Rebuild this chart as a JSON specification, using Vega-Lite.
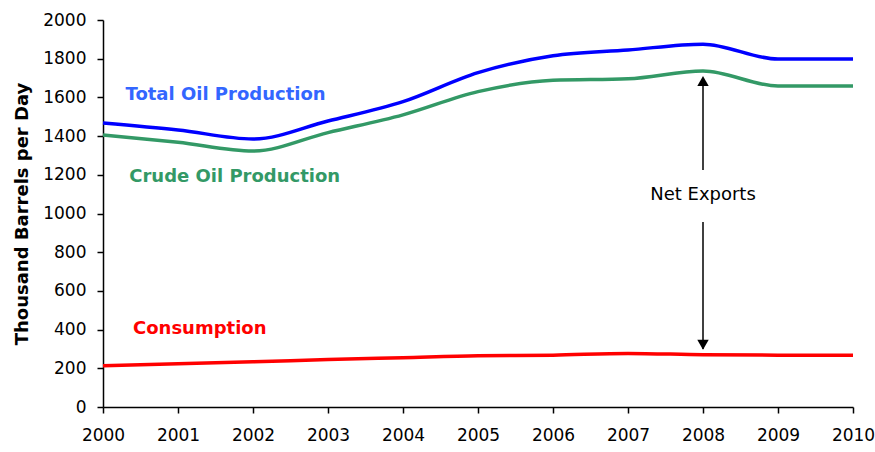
{
  "$schema": "https://vega.github.io/schema/vega-lite/v6.json",
  "width": 750,
  "height": 387,
  "autosize": "none",
  "padding": {"left": 103, "top": 20, "right": 22, "bottom": 45},
  "background": "white",
  "config": {
    "view": {"stroke": null},
    "font": "DejaVu Sans",
    "axis": {"grid": false, "domainColor": "black", "tickColor": "black", "labelColor": "black", "labelFont": "DejaVu Sans", "labelFontSize": 17, "labelOverlap": false, "domainWidth": 1.5, "tickWidth": 1.5}
  },
  "datasets": {
    "series": [
      {"year": 2000, "series": "Total", "value": 1468},
      {"year": 2001, "series": "Total", "value": 1432},
      {"year": 2002, "series": "Total", "value": 1385},
      {"year": 2003, "series": "Total", "value": 1478},
      {"year": 2004, "series": "Total", "value": 1578},
      {"year": 2005, "series": "Total", "value": 1728},
      {"year": 2006, "series": "Total", "value": 1815},
      {"year": 2007, "series": "Total", "value": 1845},
      {"year": 2008, "series": "Total", "value": 1875},
      {"year": 2009, "series": "Total", "value": 1798},
      {"year": 2010, "series": "Total", "value": 1798},
      {"year": 2000, "series": "Crude", "value": 1406},
      {"year": 2001, "series": "Crude", "value": 1368},
      {"year": 2002, "series": "Crude", "value": 1323},
      {"year": 2003, "series": "Crude", "value": 1418},
      {"year": 2004, "series": "Crude", "value": 1510},
      {"year": 2005, "series": "Crude", "value": 1630},
      {"year": 2006, "series": "Crude", "value": 1688},
      {"year": 2007, "series": "Crude", "value": 1696},
      {"year": 2008, "series": "Crude", "value": 1736},
      {"year": 2009, "series": "Crude", "value": 1659},
      {"year": 2010, "series": "Crude", "value": 1659},
      {"year": 2000, "series": "Consumption", "value": 213},
      {"year": 2001, "series": "Consumption", "value": 224},
      {"year": 2002, "series": "Consumption", "value": 234},
      {"year": 2003, "series": "Consumption", "value": 245},
      {"year": 2004, "series": "Consumption", "value": 255},
      {"year": 2005, "series": "Consumption", "value": 265},
      {"year": 2006, "series": "Consumption", "value": 268},
      {"year": 2007, "series": "Consumption", "value": 277},
      {"year": 2008, "series": "Consumption", "value": 270},
      {"year": 2009, "series": "Consumption", "value": 268},
      {"year": 2010, "series": "Consumption", "value": 268}
    ],
    "labels": [
      {"year": 2000.3, "value": 1612, "text": "Total Oil Production", "series": "Total"},
      {"year": 2000.35, "value": 1189, "text": "Crude Oil Production", "series": "Crude"},
      {"year": 2000.4, "value": 403, "text": "Consumption", "series": "Consumption"}
    ],
    "shafts": [
      {"year": 2008, "value": 1225, "value2": 1700},
      {"year": 2008, "value": 956, "value2": 300}
    ],
    "heads": [
      {"year": 2008, "value": 1685, "shape": "triangle-up"},
      {"year": 2008, "value": 322, "shape": "triangle-down"}
    ],
    "note": [
      {"year": 2008, "value": 1096, "text": "Net Exports"}
    ]
  },
  "encoding": {
    "x": {"field": "year", "type": "quantitative", "scale": {"domain": [2000, 2010], "nice": false, "zero": false},
          "axis": {"title": null, "format": "d", "values": [2000,2001,2002,2003,2004,2005,2006,2007,2008,2009,2010], "tickSize": 6, "labelPadding": 14, "labelFlush": false}},
    "y": {"field": "value", "type": "quantitative", "scale": {"domain": [0, 2000], "nice": false},
          "axis": {"title": "Thousand Barrels per Day", "format": "d", "titleFontSize": 18, "titleFontWeight": "bold", "titleFont": "DejaVu Sans", "titleColor": "black", "values": [0,200,400,600,800,1000,1200,1400,1600,1800,2000], "tickSize": 6, "labelPadding": 11, "titlePadding": 11}}
  },
  "resolve": {"scale": {"color": "independent"}},
  "layer": [
    {
      "data": {"name": "series"},
      "mark": {"type": "line", "interpolate": "monotone", "strokeWidth": 3.5},
      "encoding": {
        "color": {"field": "series", "type": "nominal", "scale": {"domain": ["Total", "Crude", "Consumption"], "range": ["#0000FF", "#339966", "#FF0000"]}, "legend": null}
      }
    },
    {
      "data": {"name": "labels"},
      "mark": {"type": "text", "align": "left", "baseline": "middle", "fontSize": 18, "fontWeight": "bold", "font": "DejaVu Sans"},
      "encoding": {
        "text": {"field": "text"},
        "color": {"field": "series", "type": "nominal", "scale": {"domain": ["Total", "Crude", "Consumption"], "range": ["#3366FF", "#339966", "#FF0000"]}, "legend": null}
      }
    },
    {
      "data": {"name": "shafts"},
      "mark": {"type": "rule", "color": "black", "strokeWidth": 1.5},
      "encoding": {
        "y2": {"field": "value2"}
      }
    },
    {
      "data": {"name": "heads"},
      "mark": {"type": "point", "filled": true, "color": "black", "opacity": 1, "size": 130},
      "encoding": {
        "shape": {"field": "shape", "type": "nominal", "scale": null}
      }
    },
    {
      "data": {"name": "note"},
      "mark": {"type": "text", "align": "center", "baseline": "middle", "fontSize": 18, "font": "DejaVu Sans", "color": "black"},
      "encoding": {
        "text": {"field": "text"}
      }
    }
  ]
}
